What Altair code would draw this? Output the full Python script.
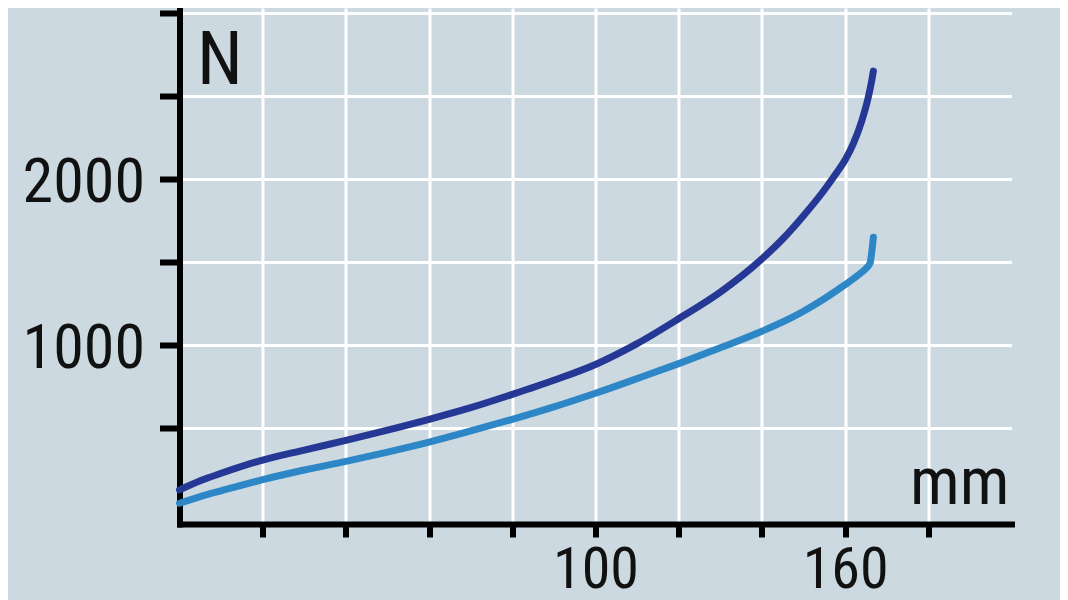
import altair as alt
import pandas as pd

# data
x_dark = [0, 5, 10, 20, 30, 40, 50, 60, 70, 80, 90, 100, 110, 120, 130, 140, 145, 150, 155, 158, 160, 162, 164, 165.5, 166.3, 166.8]
y_dark = [130, 185, 230, 310, 370, 428, 490, 555, 625, 705, 790, 885, 1010, 1160, 1320, 1520, 1640, 1780, 1935, 2040, 2115, 2215, 2350, 2485, 2580, 2650]
x_light = [0, 5, 10, 20, 30, 40, 50, 60, 70, 80, 90, 100, 110, 120, 130, 140, 147, 150, 155, 160, 163, 165, 166, 166.4, 166.8]
y_light = [50, 90, 125, 192, 250, 302, 358, 418, 485, 555, 630, 712, 800, 890, 985, 1085, 1165, 1205, 1280, 1365, 1420, 1462, 1495, 1560, 1650]
series_names = ["A", "B"]
series_colors = ["#263896", "#2d87c7"]

x_ticks = [20, 40, 60, 80, 100, 120, 140, 160, 180]
x_labeled = [100, 160]
y_ticks = [500, 1000, 1500, 2000, 2500, 3000]
y_labeled = [1000, 2000]

df = pd.concat([
    pd.DataFrame({"x": x_dark, "y": y_dark, "s": series_names[0], "o": range(len(x_dark))}),
    pd.DataFrame({"x": x_light, "y": y_light, "s": series_names[1], "o": range(len(x_light))}),
])

FONT = "Roboto Condensed, Liberation Sans Narrow, Liberation Sans, Arial, sans-serif"

x_expr = " || ".join(f"datum.value == {v}" for v in x_labeled)
y_expr = " || ".join(f"datum.value == {v}" for v in y_labeled)

chart = alt.Chart(df).mark_line(strokeWidth=7, interpolate="monotone", strokeCap="round").encode(
    x=alt.X("x:Q", scale=alt.Scale(domain=[0, 200], nice=False, zero=False),
            axis=alt.Axis(values=x_ticks, format="d", title="mm",
                          labelExpr=f"({x_expr}) ? datum.label : ''",
                          domainColor="black", domainWidth=6, domainCap="square",
                          tickColor="black", tickWidth=6, tickSize=13,
                          labelFont=FONT, labelFontSize=58, labelColor="#111",
                          labelPadding=4, labelBaseline="top",
                          gridColor="white", gridWidth=3, gridOpacity=1,
                          titleFont=FONT, titleFontSize=66, titleFontWeight="normal",
                          titleColor="#111", titleAlign="right", titleBaseline="alphabetic",
                          titleAnchor="start", titleX=829.5, titleY=-20.5)),
    y=alt.Y("y:Q", scale=alt.Scale(domain=[-75, 3030], nice=False, zero=False),
            axis=alt.Axis(values=y_ticks, format="d", title="N",
                          labelExpr=f"({y_expr}) ? datum.label : ''",
                          domainColor="black", domainWidth=6, domainCap="square",
                          tickColor="black", tickWidth=6, tickSize=20,
                          labelFont=FONT, labelFontSize=62, labelColor="#111",
                          labelPadding=15, labelBaseline="middle", labelOffset=3,
                          gridColor="white", gridWidth=3, gridOpacity=1,
                          titleFont=FONT, titleFontSize=74, titleFontWeight="normal",
                          titleColor="#111", titleAngle=0, titleAlign="left",
                          titleBaseline="alphabetic", titleAnchor="start",
                          titleX=17, titleY=75)),
    color=alt.Color("s:N", scale=alt.Scale(domain=series_names, range=series_colors), legend=None),
    order="o:Q",
).properties(
    width=832, height=516,
    autosize=alt.AutoSizeParams(type="none"),
    padding={"left": 171.5, "top": 0, "right": 48, "bottom": 76},
    background="#ccd9e0",
).configure_view(stroke=None)

chart.save("out.html", embed_options={"renderer": "svg", "actions": False})
